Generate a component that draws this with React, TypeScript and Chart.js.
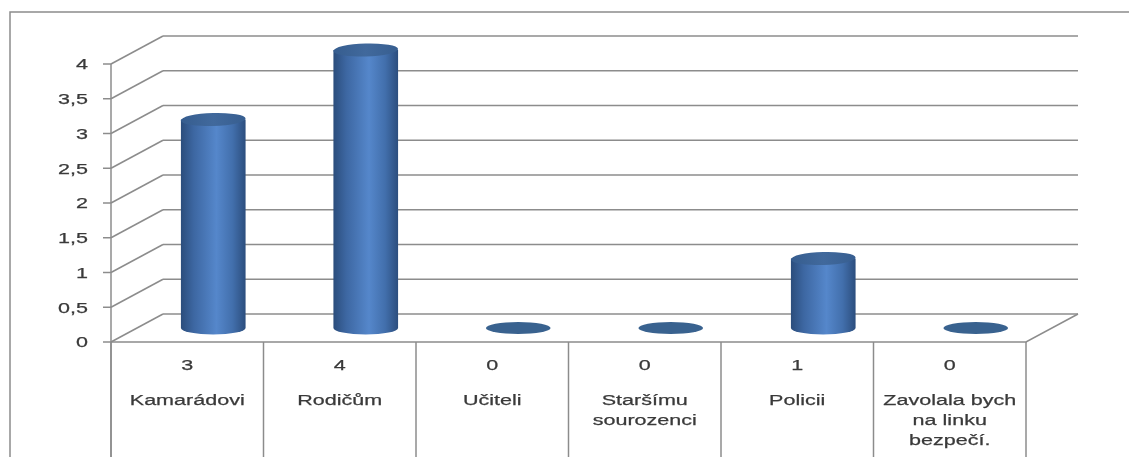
import React, { useEffect, useRef } from "react";
import { Chart, registerables } from "chart.js";

Chart.register(...registerables);

const categories: string[][] = [
  ["Kamarádovi"],
  ["Rodičům"],
  ["Učiteli"],
  ["Staršímu", "sourozenci"],
  ["Policii"],
  ["Zavolala bych", "na linku", "bezpečí."],
];
const values: number[] = [3, 4, 0, 0, 1, 0];
const yTickValues: number[] = [0, 0.5, 1, 1.5, 2, 2.5, 3, 3.5, 4];
const yTickLabels: string[] = ["0", "0,5", "1", "1,5", "2", "2,5", "3", "3,5", "4"];

const W = 1129;
const H = 457;
const DX = 52;
const DY = -28;
const LINE = "#8c8c8c";
const TEXT = "#3a3a3a";
const FONT = '15.5px "Liberation Sans", Arial, sans-serif';
const SX = 1.39;

function stretchedText(ctx: CanvasRenderingContext2D, t: string, x: number, y: number, align: CanvasTextAlign) {
  ctx.save();
  ctx.translate(x, y);
  ctx.scale(SX, 1);
  ctx.textAlign = align;
  ctx.fillText(t, 0, 0);
  ctx.lineWidth = 0.25;
  ctx.strokeStyle = TEXT;
  ctx.strokeText(t, 0, 0);
  ctx.restore();
}

const frame3d = {
  id: "frame3d",
  beforeDatasetsDraw(chart: any) {
    const ctx: CanvasRenderingContext2D = chart.ctx;
    const { left, right, bottom } = chart.chartArea;
    const ys = chart.scales.y;
    const xs = chart.scales.x;
    ctx.save();
    ctx.fillStyle = "#ffffff";
    ctx.fillRect(0, 0, W, H);

    ctx.strokeStyle = LINE;
    ctx.lineWidth = 1.5;
    ctx.strokeRect(10, 12, W + 20, H + 20);

    yTickValues.forEach((v) => {
      const y = ys.getPixelForValue(v);
      ctx.beginPath();
      ctx.moveTo(left + DX, y + DY);
      ctx.lineTo(right + DX, y + DY);
      ctx.stroke();
      ctx.beginPath();
      ctx.moveTo(left, y);
      ctx.lineTo(left + DX, y + DY);
      ctx.stroke();
      ctx.beginPath();
      ctx.moveTo(left - 8, y);
      ctx.lineTo(left, y);
      ctx.stroke();
    });
    ctx.beginPath();
    ctx.moveTo(left, bottom);
    ctx.lineTo(right, bottom);
    ctx.lineTo(right + DX, bottom + DY);
    ctx.stroke();
    ctx.beginPath();
    ctx.moveTo(left, ys.getPixelForValue(yTickValues[yTickValues.length - 1]));
    ctx.lineTo(left, H + 5);
    ctx.stroke();
    const n = categories.length;
    const cw = (right - left) / n;
    for (let i = 0; i <= n; i++) {
      const x = xs.getPixelForValue(0) - cw / 2 + i * cw;
      ctx.beginPath();
      ctx.moveTo(x, bottom);
      ctx.lineTo(x, H + 5);
      ctx.stroke();
    }

    ctx.fillStyle = TEXT;
    ctx.font = FONT;
    ctx.textBaseline = "middle";
    yTickValues.forEach((v, i) => {
      stretchedText(ctx, yTickLabels[i], left - 23, ys.getPixelForValue(v) + 1, "right");
    });

    ctx.textBaseline = "alphabetic";
    values.forEach((v, i) => {
      const cx = xs.getPixelForValue(i);
      stretchedText(ctx, String(v), cx, bottom + 28, "center");
      categories[i].forEach((line, j) => {
        stretchedText(ctx, line, cx, bottom + 63 + j * 20, "center");
      });
    });
    ctx.restore();
  },
  afterDatasetsDraw(chart: any) {
    const ctx: CanvasRenderingContext2D = chart.ctx;
    const { left, right } = chart.chartArea;
    const ys = chart.scales.y;
    const xs = chart.scales.x;
    const cw = (right - left) / categories.length;
    const rx = cw * 0.212;
    const ry = 6.5;
    ctx.save();
    values.forEach((v, i) => {
      const cx = xs.getPixelForValue(i) + DX / 2;
      const yBot = ys.getPixelForValue(0) + DY / 2;
      const yTop = ys.getPixelForValue(v) + DY / 2;
      if (v > 0) {
        const g = ctx.createLinearGradient(cx - rx, 0, cx + rx, 0);
        g.addColorStop(0, "#2b4d7c");
        g.addColorStop(0.2, "#3d67a2");
        g.addColorStop(0.55, "#5587cb");
        g.addColorStop(0.8, "#426fac");
        g.addColorStop(1, "#2c4e7e");
        ctx.beginPath();
        ctx.moveTo(cx - rx, yTop);
        ctx.lineTo(cx - rx, yBot);
        ctx.ellipse(cx, yBot, rx, ry, 0, Math.PI, 0, true);
        ctx.lineTo(cx + rx, yTop);
        ctx.closePath();
        ctx.fillStyle = g;
        ctx.fill();
        const gt = ctx.createLinearGradient(cx - rx, 0, cx + rx, 0);
        gt.addColorStop(0, "#365d8f");
        gt.addColorStop(0.5, "#41699c");
        gt.addColorStop(1, "#375e90");
        ctx.beginPath();
        ctx.ellipse(cx, yTop, rx, ry, -0.03, 0, Math.PI * 2);
        ctx.fillStyle = gt;
        ctx.fill();
      } else {
        ctx.beginPath();
        ctx.ellipse(cx, yBot, rx, ry - 0.5, 0, 0, Math.PI * 2);
        ctx.fillStyle = "#39628f";
        ctx.fill();
      }
    });
    ctx.restore();
  },
};

export default function App() {
  const ref = useRef<HTMLCanvasElement | null>(null);
  useEffect(() => {
    if (!ref.current) return;
    const chart = new Chart(ref.current, {
      type: "bar",
      data: {
        labels: categories as any,
        datasets: [
          {
            data: values,
            backgroundColor: "rgba(0,0,0,0)",
            borderWidth: 0,
          },
        ],
      },
      options: {
        animation: false,
        responsive: false,
        devicePixelRatio: 1,
        layout: { padding: { left: 111, right: W - 1026, top: 64, bottom: H - 342 } },
        plugins: { legend: { display: false }, tooltip: { enabled: false } },
        scales: {
          x: { display: false, offset: true },
          y: { display: false, min: 0, max: 4, ticks: { stepSize: 0.5 } },
        },
      },
      plugins: [frame3d],
    });
    return () => chart.destroy();
  }, []);
  return (
    <div style={{ position: "fixed", left: 0, top: 0, width: W, height: H, background: "#fff" }}>
      <canvas ref={ref} width={W} height={H} style={{ display: "block" }} />
    </div>
  );
}
